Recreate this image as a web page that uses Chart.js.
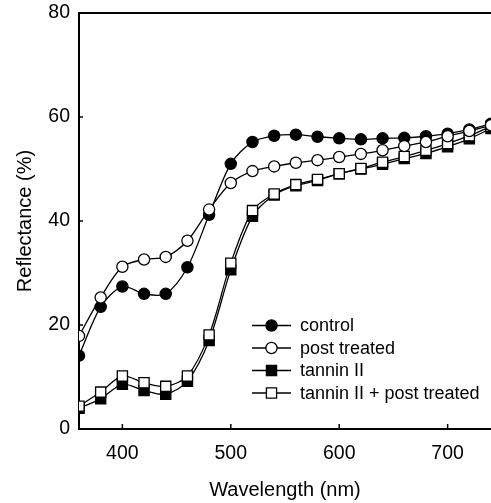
<!DOCTYPE html>
<html>
<head>
<meta charset="utf-8">
<script src="https://cdn.jsdelivr.net/npm/chart.js@4/dist/chart.umd.min.js"></script>
<style>
html,body{margin:0;padding:0;background:#fff;overflow:hidden;}
#wrap{width:491px;height:503px;position:relative;}
canvas{display:block;}
</style>
</head>
<body>
<div id="wrap"><canvas id="c"></canvas></div>
<script>
const wavelengths = [360,380,400,420,440,460,480,500,520,540,560,580,600,620,640,660,680,700,720,740];
const control     = [14.1,23.5,27.4,26.0,26.0,31.1,41.2,51.0,55.2,56.4,56.6,56.2,55.9,55.7,55.9,56.0,56.3,56.8,57.6,58.7];
const postTreated = [17.9,25.3,31.2,32.6,33.1,36.2,42.2,47.3,49.6,50.5,51.2,51.7,52.3,52.9,53.6,54.4,55.2,56.3,57.3,58.4];
const tannin      = [4.0,5.8,8.6,7.4,6.7,9.2,17.0,30.6,40.9,45.0,46.8,47.8,49.1,50.0,50.9,52.0,53.0,54.3,55.8,57.8];
const tanninPost  = [4.4,7.1,10.2,8.9,8.2,10.2,18.1,31.9,42.0,45.2,47.0,48.0,49.1,50.1,51.3,52.4,53.6,54.9,56.4,58.2];
const seriesNames = ['control','post treated','tannin II','tannin II + post treated'];
const xTicks = [400,500,600,700];
const yTicks = [0,20,40,60,80];

const toPts = arr => wavelengths.map((w,i)=>({x:w,y:arr[i]}));
const FONT = "'Liberation Sans', Arial, sans-serif";

function ds(label, data, style, filled, order){
  return {
    label, data: toPts(data), order,
    borderColor:'#000', borderWidth:1.3, tension:0.3,
    pointStyle: style,
    pointRadius: style==='circle'?5.6:7.2,
    pointHoverRadius: style==='circle'?5.6:7.2,
    pointBorderWidth:1.3,
    pointBackgroundColor: filled?'#000':'#fff',
    pointBorderColor:'#000',
    fill:false
  };
}

const frame = {
  id:'frame',
  afterDraw(chart){
    const {ctx, chartArea:a, scales:{x,y}} = chart;
    ctx.save();
    ctx.strokeStyle='#000'; ctx.lineWidth=2;
    ctx.beginPath(); ctx.moveTo(a.left, a.top); ctx.lineTo(a.right, a.top); ctx.stroke();
    ctx.lineWidth=1.5;
    xTicks.forEach(v=>{const px=x.getPixelForValue(v); ctx.beginPath(); ctx.moveTo(px,a.bottom); ctx.lineTo(px,a.bottom-5); ctx.stroke();});
    yTicks.forEach(v=>{const py=y.getPixelForValue(v); ctx.beginPath(); ctx.moveTo(a.left,py); ctx.lineTo(a.left+4,py); ctx.stroke();});
    // legend
    const lx0 = 252, lx1 = 291, tx = 300, ys = [325.5,348,370.5,393];
    ctx.font = "18px " + FONT; ctx.textBaseline='middle'; ctx.textAlign='left'; ctx.fillStyle='#000';
    [0,1,2,3].forEach((i,k)=>{
      const d = chart.data.datasets[i];
      ctx.strokeStyle='#000'; ctx.lineWidth=1.3;
      ctx.beginPath(); ctx.moveTo(lx0, ys[k]); ctx.lineTo(lx1, ys[k]); ctx.stroke();
      ctx.fillStyle = d.pointBackgroundColor; ctx.lineWidth = 1.3;
      Chart.helpers.drawPoint(ctx, {pointStyle:d.pointStyle, rotation:0, borderWidth:1.3, radius:d.pointRadius}, (lx0+lx1)/2, ys[k]);
      ctx.fillStyle='#000';
      ctx.fillText(d.label, tx, ys[k]+1);
    });
    ctx.restore();
  }
};

new Chart(document.getElementById('c'), {
  type:'line',
  data:{ datasets:[
    ds(seriesNames[0], control, 'circle', true, 2),
    ds(seriesNames[1], postTreated, 'circle', false, 1),
    ds(seriesNames[2], tannin, 'rect', true, 4),
    ds(seriesNames[3], tanninPost, 'rect', false, 3)
  ]},
  options:{
    responsive:true, maintainAspectRatio:false, animation:false,
    layout:{autoPadding:false, padding:{top:13,right:0,left:0,bottom:0}},
    plugins:{legend:{display:false}, tooltip:{enabled:false}},
    scales:{
      x:{type:'linear', min:360, max:740,
        afterBuildTicks: s=>{ s.ticks = xTicks.map(v=>({value:v})); },
        afterFit: s=>{ s.height = 74; s.paddingLeft = 0; s.paddingRight = 0; s.paddingTop = 0; s.paddingBottom = 0; },
        grid:{display:false, drawTicks:false},
        border:{display:true, color:'#000', width:2},
        ticks:{color:'#000', padding:12.5, font:{family:FONT, size:19.5}, maxRotation:0},
        title:{display:true, text:'Wavelength (nm)', color:'#000', font:{family:FONT, size:20}, padding:{top:0,bottom:1}}
      },
      y:{type:'linear', min:0, max:80,
        afterBuildTicks: s=>{ s.ticks = yTicks.map(v=>({value:v})); },
        afterFit: s=>{ s.width = 79; s.paddingLeft = 0; s.paddingRight = 0; s.paddingTop = 0; s.paddingBottom = 0; },
        grid:{display:false, drawTicks:false},
        border:{display:true, color:'#000', width:2},
        ticks:{color:'#000', padding:9, font:{family:FONT, size:19.5}},
        title:{display:true, text:'Reflectance (%)', color:'#000', font:{family:FONT, size:20}, padding:{top:13,bottom:0}}
      }
    }
  },
  plugins:[frame]
});
</script>
</body>
</html>
